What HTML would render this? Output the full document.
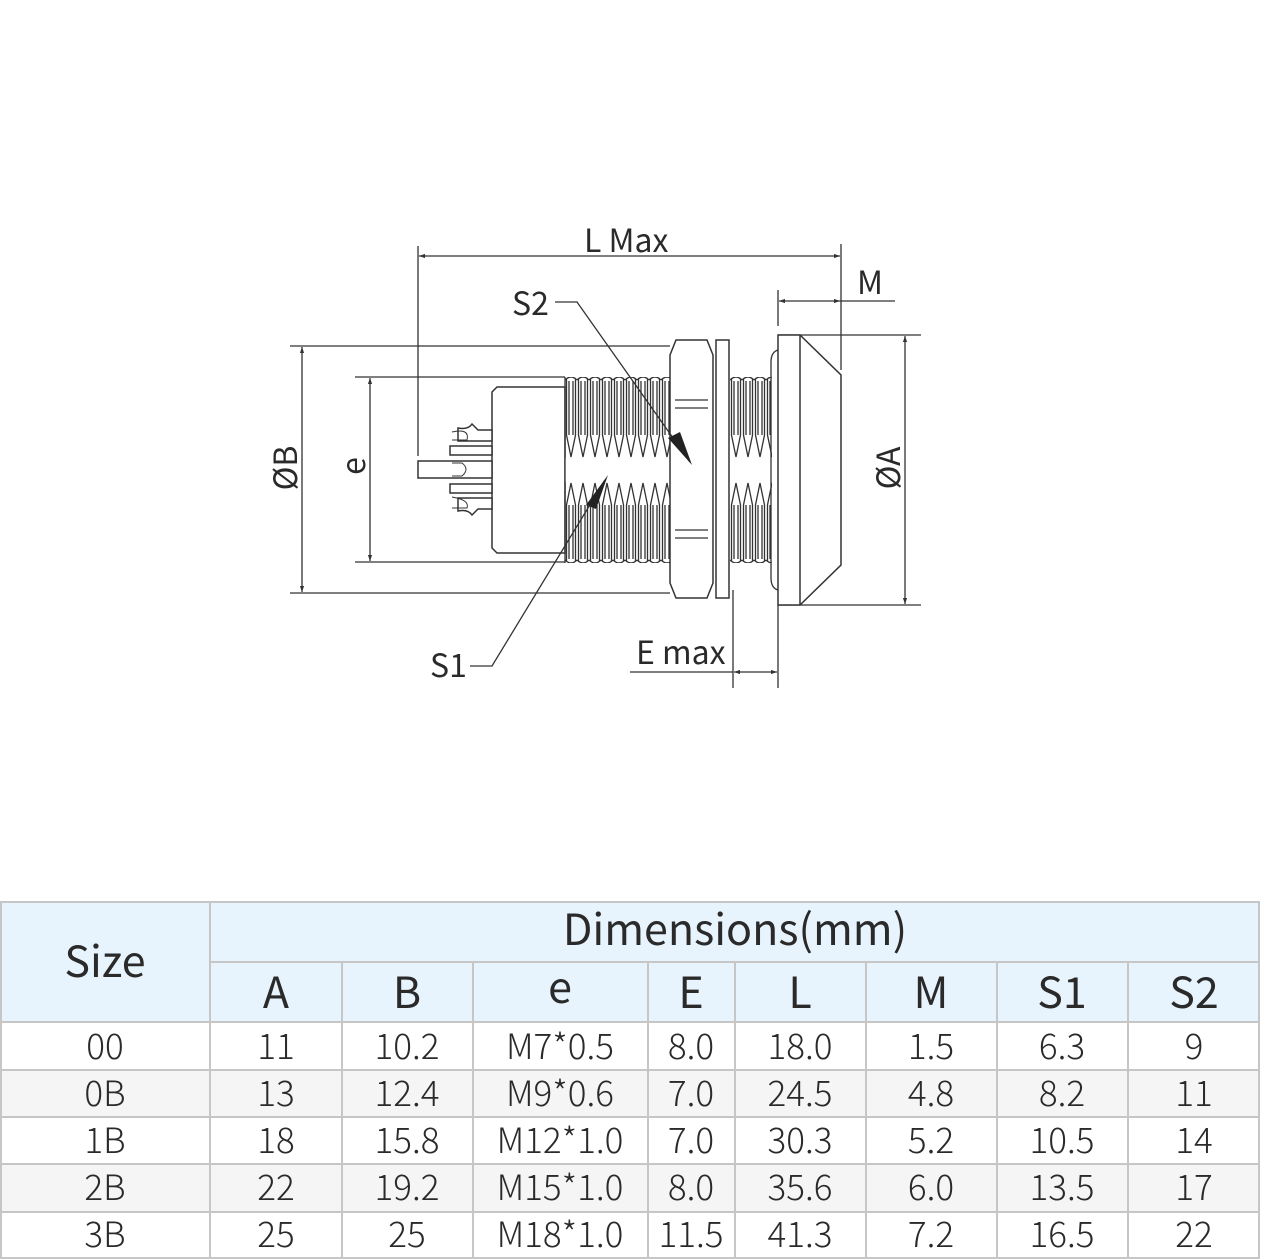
<!DOCTYPE html>
<html><head><meta charset="utf-8"><style>
html,body{margin:0;padding:0;background:#fff;width:1261px;height:1260px;overflow:hidden}
svg{display:block}
.dim{font-family:"Noto Sans CJK SC","Liberation Sans",sans-serif;font-size:32px;fill:#2a2a2a;font-weight:400}
.th{font-family:"Noto Sans CJK SC","Liberation Sans",sans-serif;font-size:43px;fill:#2a2a2a;text-anchor:middle;font-weight:400}
.td{font-family:"Noto Sans CJK SC","Liberation Sans",sans-serif;font-size:35px;fill:#2a2a2a;text-anchor:middle;font-weight:300}
</style></head><body>
<svg width="1261" height="1260" viewBox="0 0 1261 1260" xmlns="http://www.w3.org/2000/svg">
<defs>
<marker id="ar" viewBox="0 0 10 10" refX="10" refY="5" markerWidth="10" markerHeight="6" orient="auto-start-reverse" markerUnits="userSpaceOnUse"><path d="M0,1.5 L10,5 L0,8.5 Z" fill="#333"/></marker>
<g id="tooth" fill="none" stroke="#333" stroke-width="1.3">
<path d="M0,3 Q6,-3 12,3"/>
<path d="M1.5,2 L1.5,58 L6,80 L10.5,58 L10.5,2"/>
<path d="M4,4 L4,58 M8,4 L8,58"/>
<path d="M0,183 Q6,189 12,183"/>
<path d="M1.5,184 L1.5,128 L6,106 L10.5,128 L10.5,184"/>
<path d="M4,182 L4,128 M8,182 L8,128"/>
</g>
<pattern id="thr" x="565" y="377" width="12" height="186" patternUnits="userSpaceOnUse"><use href="#tooth"/></pattern>
<pattern id="thr2" x="730" y="377" width="12" height="186" patternUnits="userSpaceOnUse"><use href="#tooth"/></pattern>
</defs>

<g stroke="#333" stroke-width="1.3" fill="none">
<line x1="290" y1="346" x2="670" y2="346"/>
<line x1="290" y1="593" x2="670" y2="593"/>
<line x1="355" y1="377" x2="565" y2="377"/>
<line x1="355" y1="562" x2="565" y2="562"/>
<line x1="418" y1="246" x2="418" y2="456"/>
<line x1="841" y1="244" x2="841" y2="370"/>
<line x1="778" y1="290" x2="778" y2="326"/>
<line x1="778" y1="335" x2="921" y2="335"/>
<line x1="778" y1="605" x2="921" y2="605"/>
<line x1="733" y1="590" x2="733" y2="688"/>
<line x1="778" y1="605" x2="778" y2="688"/>
<line x1="419" y1="256" x2="840" y2="256" marker-start="url(#ar)" marker-end="url(#ar)"/>
<line x1="779" y1="301" x2="840" y2="301" marker-start="url(#ar)" marker-end="url(#ar)"/>
<line x1="840" y1="301" x2="895" y2="301"/>
<line x1="302" y1="347" x2="302" y2="592" marker-start="url(#ar)" marker-end="url(#ar)"/>
<line x1="370" y1="378" x2="370" y2="561" marker-start="url(#ar)" marker-end="url(#ar)"/>
<line x1="905" y1="336" x2="905" y2="604" marker-start="url(#ar)" marker-end="url(#ar)"/>
<line x1="630" y1="672" x2="733" y2="672"/>
<line x1="734" y1="672" x2="777" y2="672" marker-start="url(#ar)" marker-end="url(#ar)"/>
</g>

<g stroke="#333" stroke-width="1.5" fill="#fff">
<path d="M492,392 L497,387 L565,387 L565,553 L497,553 L492,548 Z"/>
<path d="M458,428 Q468,430 472,424 L478,430 L492,430 L492,441 L458,441 Z"/>
<path d="M450,446 L492,446 L492,455 L450,455 Z"/>
<path d="M418,461 L492,461 L492,478 L418,478 Z"/>
<path d="M450,484 L492,484 L492,493 L450,493 Z"/>
<path d="M458,498 L492,498 L492,509 L478,509 L472,515 Q468,509 458,511 Z"/>
</g>
<g stroke="#333" stroke-width="1" fill="none">
<path d="M452,432 Q470,428 467,440 L452,440"/>
<path d="M452,463 L462,463 Q470,469 462,476 L452,476"/>
<path d="M452,497 Q470,500 467,508 L452,508"/>
</g>
<rect x="565" y="377" width="105" height="186" fill="url(#thr)"/>
<rect x="565" y="458" width="105" height="24" fill="#fff"/>
<line x1="565" y1="377" x2="565" y2="563" stroke="#333" stroke-width="1.3"/>
<g stroke="#333" stroke-width="1.5" fill="#fff">
<path d="M676,340 L707,340 L713,355 L713,583 L707,598 L676,598 L670,583 L670,355 Z"/>
<rect x="716" y="340" width="13" height="258"/>
</g>
<g stroke="#333" stroke-width="1.3">
<line x1="675" y1="400" x2="708" y2="400"/><line x1="675" y1="408" x2="708" y2="408"/>
<line x1="675" y1="530" x2="708" y2="530"/><line x1="675" y1="538" x2="708" y2="538"/>
</g>
<rect x="730" y="377" width="42" height="186" fill="url(#thr2)"/>
<rect x="730" y="458" width="42" height="24" fill="#fff"/>
<g stroke="#333" stroke-width="1.3" fill="none">
<path d="M778,350 Q771,352 771,362 L771,578 Q771,588 778,590"/>
</g>
<g stroke="#333" stroke-width="1.5" fill="#fff">
<path d="M778,335 L800,335 L841,375 L841,565 L800,605 L778,605 Z"/>
<line x1="800" y1="335" x2="800" y2="605"/>
</g>

<!-- leaders on top -->
<g stroke="#333" stroke-width="1.3" fill="none">
<polyline points="555,302 577,302 690,462"/>
<polyline points="470,666 492,666 605,480"/>
</g>
<path d="M692,465 L668,438 L680,432 Z" fill="#222"/>
<path d="M608,475 L586,505 L596,509 Z" fill="#222"/>

<text class="dim" x="584" y="252">L Max</text>
<text class="dim" x="857" y="294">M</text>
<text class="dim" x="512" y="315">S2</text>
<text class="dim" x="430" y="677">S1</text>
<text class="dim" x="636" y="664">E max</text>
<text class="dim" transform="translate(297,468) rotate(-90)" text-anchor="middle">ØB</text>
<text class="dim" transform="translate(365,466) rotate(-90)" text-anchor="middle">e</text>
<text class="dim" transform="translate(900,468) rotate(-90)" text-anchor="middle">ØA</text>

<rect x="1" y="902" width="1258" height="120" fill="#e8f4fd"/>
<rect x="1" y="1070" width="1258" height="47" fill="#f5f5f5"/>
<rect x="1" y="1164" width="1258" height="48" fill="#f5f5f5"/>
<g stroke="#c6c6c6" stroke-width="2" fill="none">
<rect x="1" y="902" width="1258" height="356"/>
<line x1="210" y1="962" x2="1259" y2="962"/>
<line x1="1" y1="1022" x2="1259" y2="1022"/>
<line x1="1" y1="1070" x2="1259" y2="1070"/>
<line x1="1" y1="1117" x2="1259" y2="1117"/>
<line x1="1" y1="1164" x2="1259" y2="1164"/>
<line x1="1" y1="1212" x2="1259" y2="1212"/>
<line x1="210" y1="902" x2="210" y2="1258"/>
<line x1="342" y1="962" x2="342" y2="1258"/>
<line x1="473" y1="962" x2="473" y2="1258"/>
<line x1="648" y1="962" x2="648" y2="1258"/>
<line x1="735" y1="962" x2="735" y2="1258"/>
<line x1="866" y1="962" x2="866" y2="1258"/>
<line x1="997" y1="962" x2="997" y2="1258"/>
<line x1="1128" y1="962" x2="1128" y2="1258"/>
</g>
<text class="th" x="105" y="977">Size</text>
<text class="th" x="735" y="945">Dimensions(mm)</text>
<text class="th" x="276" y="1008">A</text>
<text class="th" x="407" y="1008">B</text>
<text class="th" x="560" y="1003">e</text>
<text class="th" x="691" y="1008">E</text>
<text class="th" x="800" y="1008">L</text>
<text class="th" x="931" y="1008">M</text>
<text class="th" x="1062" y="1008">S1</text>
<text class="th" x="1194" y="1008">S2</text>
<g>
<text class="td" x="105" y="1059">00</text><text class="td" x="276" y="1059">11</text><text class="td" x="407" y="1059">10.2</text><text class="td" x="560" y="1059">M7*0.5</text><text class="td" x="691" y="1059">8.0</text><text class="td" x="800" y="1059">18.0</text><text class="td" x="931" y="1059">1.5</text><text class="td" x="1062" y="1059">6.3</text><text class="td" x="1194" y="1059">9</text>
<text class="td" x="105" y="1106">0B</text><text class="td" x="276" y="1106">13</text><text class="td" x="407" y="1106">12.4</text><text class="td" x="560" y="1106">M9*0.6</text><text class="td" x="691" y="1106">7.0</text><text class="td" x="800" y="1106">24.5</text><text class="td" x="931" y="1106">4.8</text><text class="td" x="1062" y="1106">8.2</text><text class="td" x="1194" y="1106">11</text>
<text class="td" x="105" y="1153">1B</text><text class="td" x="276" y="1153">18</text><text class="td" x="407" y="1153">15.8</text><text class="td" x="560" y="1153">M12*1.0</text><text class="td" x="691" y="1153">7.0</text><text class="td" x="800" y="1153">30.3</text><text class="td" x="931" y="1153">5.2</text><text class="td" x="1062" y="1153">10.5</text><text class="td" x="1194" y="1153">14</text>
<text class="td" x="105" y="1200">2B</text><text class="td" x="276" y="1200">22</text><text class="td" x="407" y="1200">19.2</text><text class="td" x="560" y="1200">M15*1.0</text><text class="td" x="691" y="1200">8.0</text><text class="td" x="800" y="1200">35.6</text><text class="td" x="931" y="1200">6.0</text><text class="td" x="1062" y="1200">13.5</text><text class="td" x="1194" y="1200">17</text>
<text class="td" x="105" y="1247">3B</text><text class="td" x="276" y="1247">25</text><text class="td" x="407" y="1247">25</text><text class="td" x="560" y="1247">M18*1.0</text><text class="td" x="691" y="1247">11.5</text><text class="td" x="800" y="1247">41.3</text><text class="td" x="931" y="1247">7.2</text><text class="td" x="1062" y="1247">16.5</text><text class="td" x="1194" y="1247">22</text>
</g>
</svg>
</body></html>
